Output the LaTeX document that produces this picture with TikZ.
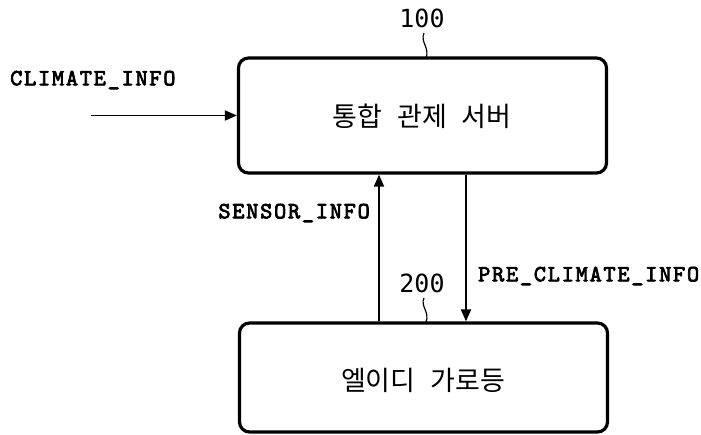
\documentclass[tikz,border=0pt]{standalone}
\usepackage{fontspec}
\newfontfamily\dmono{DejaVu Sans Mono}
\newfontfamily\kr{Noto Sans CJK KR}
\newfontfamily\cmono{lmmono10-regular.otf}[LetterSpace=7.5,FakeBold=3.2]
\usetikzlibrary{arrows.meta}
\begin{document}
\begin{tikzpicture}[x=1pt,y=1pt,
  blk/.style={draw,line width=3.2pt,rounded corners=10pt,minimum width=368pt,inner sep=0pt},
  sig/.style={font=\cmono\fontsize{23.2}{24}\selectfont,inner sep=0pt},
  refnum/.style={font=\dmono\fontsize{25}{27}\selectfont,inner sep=0pt},
  krtext/.style={font=\kr\fontsize{27}{30}\selectfont,inner sep=0pt},
  flow/.style={line width=1.8pt,-{Triangle[length=12pt,width=10pt]}},
  squig/.style={line width=1.2pt}]
\useasboundingbox (0,0) rectangle (701,-434);
\node[blk,minimum height=115pt] (srv) at (422.5,-115.5) {};
\node[krtext] (srvt) at (422,-116) {통합\hspace{0.55em}관제\hspace{0.55em}서버};
\node[blk,minimum height=109pt] (led) at (423.5,-377.5) {};
\node[krtext] (ledt) at (423,-380) {엘이디\hspace{0.55em}가로등};
\node[refnum] (n100) at (422,-18) {100};
\node[refnum] (n200) at (422,-283) {200};
\draw[squig] (424,-33) .. controls (420,-42) and (430,-48) .. (426,-58);
\draw[squig] (424,-298) .. controls (420,-306) and (430,-312) .. (426,-322);
\node[sig,anchor=west] (ci) at (10,-80) {CLIMATE\_INFO};
\coordinate (cin) at (91,-115.5);
\draw[flow] (cin) -- (srv.west |- cin);
\coordinate (upx) at (379,0);
\coordinate (dnx) at (466,0);
\draw[flow] (led.north -| upx) -- (srv.south -| upx);
\draw[flow] (srv.south -| dnx) -- (led.north -| dnx);
\node[sig,anchor=east] (si) at (370,-213) {SENSOR\_INFO};
\node[sig,anchor=west] (pci) at (478,-276) {PRE\_CLIMATE\_INFO};
\end{tikzpicture}
\end{document}
